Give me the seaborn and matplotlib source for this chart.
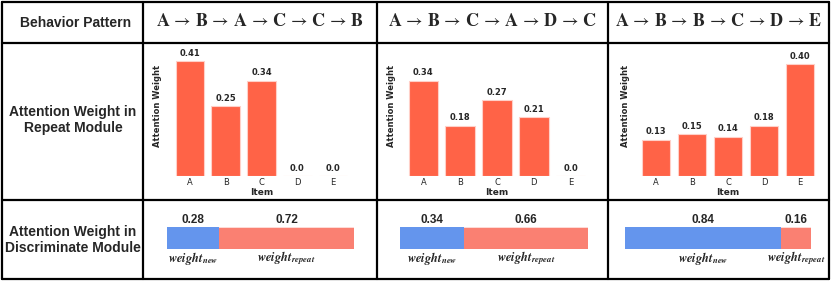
import numpy as np
import matplotlib
matplotlib.use("Agg")
import matplotlib.pyplot as plt
import seaborn as sns
from matplotlib.lines import Line2D

# --- data ---
patterns = [
    ["A", "B", "A", "C", "C", "B"],
    ["A", "B", "C", "A", "D", "C"],
    ["A", "B", "B", "C", "D", "E"],
]
items = ["A", "B", "C", "D", "E"]
repeat_weights = [
    [0.41, 0.25, 0.34, 0.0, 0.0],
    [0.34, 0.18, 0.27, 0.21, 0.0],
    [0.13, 0.15, 0.14, 0.18, 0.40],
]
weight_new = [0.28, 0.34, 0.84]
weight_repeat = [0.72, 0.66, 0.16]
row_titles = ["Behavior Pattern", "Attention Weight in\nRepeat Module",
              "Attention Weight in\nDiscriminate Module"]

sns.set_style("white")
plt.rcParams["mathtext.fontset"] = "stix"

W, H = 831, 281
fig = plt.figure(figsize=(W / 100, H / 100), dpi=100)


def fx(px):
    return px / W


def fy(py):
    return 1 - py / H


# --- table grid ---
col_x = [1.5, 143, 377, 608, 829]
row_y = [1.5, 43, 200, 279]
for x in col_x:
    fig.add_artist(Line2D([fx(x), fx(x)], [fy(row_y[0]), fy(row_y[-1])], color="black", lw=1.6))
for y in row_y:
    fig.add_artist(Line2D([fx(col_x[0]), fx(col_x[-1])], [fy(y), fy(y)], color="black", lw=1.6))

sans = ["Liberation Sans", "DejaVu Sans"]
fig.text(fx(76), fy(23), row_titles[0], ha="center", va="center", fontsize=10,
         fontweight="bold", family=sans)
fig.text(fx(73), fy(120), row_titles[1], ha="center", va="center", fontsize=10,
         fontweight="bold", family=sans, linespacing=1.15, multialignment="center")
fig.text(fx(73), fy(240), row_titles[2], ha="center", va="center", fontsize=10,
         fontweight="bold", family=sans, linespacing=1.15, multialignment="center")

# header sequences
centers = [260, 492.5, 718.5]
for c, p in zip(centers, patterns):
    s = r"$" + r"\,\rightarrow\,".join(r"\mathbf{%s}" % ch for ch in p) + r"$"
    fig.text(fx(c), fy(21), s, ha="center", va="center", fontsize=13)

# --- repeat module bar charts ---
bar_axes = [(172, 351), (405, 589), (638, 818)]
ylab_x = [157, 391, 625]
for (l, r), vals, lx in zip(bar_axes, repeat_weights, ylab_x):
    ax = fig.add_axes([fx(l), fy(176), fx(r - l), (176 - 50) / H])
    sns.barplot(x=items, y=vals, color="tomato", saturation=1, width=0.8,
                edgecolor="#ffd0c8", linewidth=0.8, ax=ax)
    ax.set_ylim(0, 0.45)
    ax.set_xlim(-0.5, 4.5)
    sns.despine(ax=ax, left=True, bottom=True)
    ax.set_yticks([])
    ax.tick_params(axis="x", length=0, labelsize=6, pad=1.5)
    ax.set_xlabel("Item", fontsize=6.5, fontweight="bold", labelpad=0.5)
    ax.set_ylabel("")
    fig.text(fx(lx), fy(106), "Attention Weight", rotation=90, ha="center",
             va="center", fontsize=6, fontweight="bold")
    for i, v in enumerate(vals):
        ax.text(i, v + 0.012, f"{v:.2f}" if v > 0 else "0.0", ha="center",
                va="bottom", fontsize=6, fontweight="bold")
    ax.patch.set_alpha(0)

# --- discriminate module stacked bars ---
stack_axes = [(167, 354), (400, 588), (625, 811)]
for (l, r), wn, wr in zip(stack_axes, weight_new, weight_repeat):
    ax = fig.add_axes([fx(l), fy(249), fx(r - l), 22 / H])
    sns.barplot(x=[wn + wr], y=[""], orient="h", color="salmon", saturation=1,
                width=0.8, edgecolor="#ffe0dc", linewidth=0.6, ax=ax)
    sns.barplot(x=[wn], y=[""], orient="h", color="cornflowerblue", saturation=1,
                width=0.8, linewidth=0, ax=ax)
    ax.set_xlim(0, 1)
    ax.set_ylim(0.4, -0.4)
    ax.axis("off")
    ax.text(wn / 2, -0.66, f"{wn:.2f}", ha="center", va="center", fontsize=8.5,
            fontweight="bold", family=sans)
    ax.text(wn + wr / 2, -0.66, f"{wr:.2f}", ha="center", va="center", fontsize=8.5,
            fontweight="bold", family=sans)
    ax.text(wn / 2, 0.74, r"$\mathbfit{weight}_{\mathbfit{new}}$", ha="center",
            va="center", fontsize=9, clip_on=False)
    ax.text(wn + wr / 2, 0.74, r"$\mathbfit{weight}_{\mathbfit{repeat}}$", ha="center",
            va="center", fontsize=9, clip_on=False)

fig.savefig("out.png", dpi=100)
